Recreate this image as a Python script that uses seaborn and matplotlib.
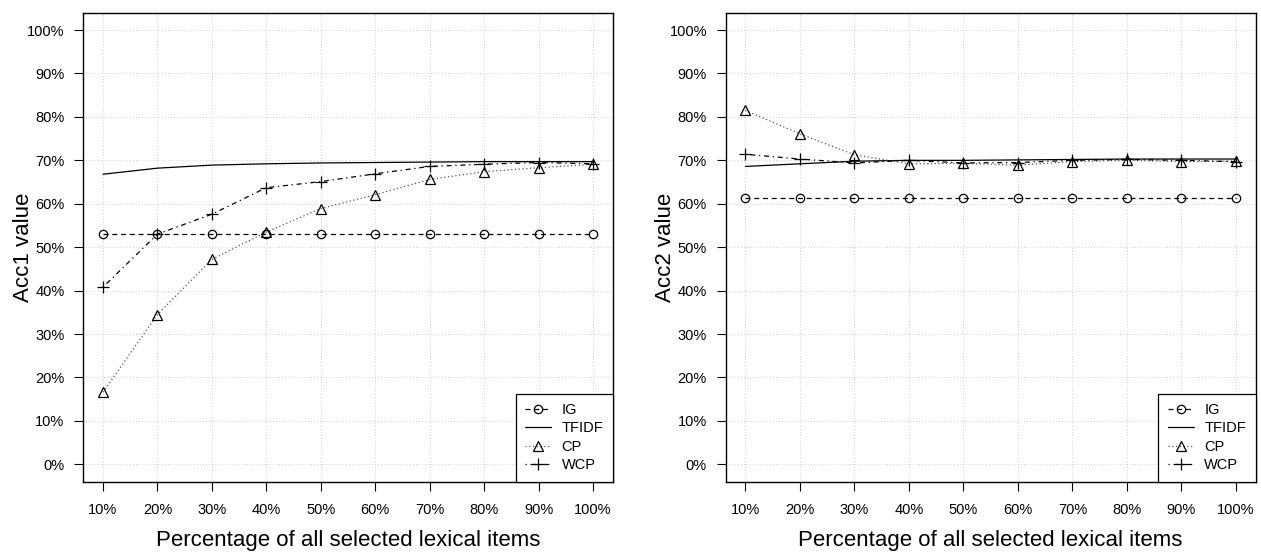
import numpy as np
import pandas as pd
import matplotlib
matplotlib.use("Agg")
import matplotlib.pyplot as plt
import seaborn as sns

# ---- data ----
pct = [10, 20, 30, 40, 50, 60, 70, 80, 90, 100]
tick_vals_y = [0, 10, 20, 30, 40, 50, 60, 70, 80, 90, 100]
methods = ["IG", "TFIDF", "CP", "WCP"]

ig_acc1 = [53.0, 53.0, 53.0, 53.0, 53.0, 53.0, 53.0, 53.0, 53.0, 53.0]
tfidf_acc1 = [66.8, 68.2, 68.9, 69.2, 69.4, 69.5, 69.6, 69.7, 69.7, 69.7]
cp_acc1 = [16.6, 34.5, 47.2, 53.5, 58.9, 62.1, 65.6, 67.4, 68.3, 69.1]
wcp_acc1 = [40.8, 53.0, 57.6, 63.7, 65.1, 66.9, 68.6, 69.1, 69.5, 69.2]

ig_acc2 = [61.3, 61.3, 61.3, 61.3, 61.3, 61.3, 61.3, 61.3, 61.3, 61.3]
tfidf_acc2 = [68.6, 69.2, 69.8, 70.0, 70.0, 70.1, 70.2, 70.3, 70.3, 70.3]
cp_acc2 = [81.5, 76.1, 71.3, 69.2, 69.3, 68.9, 69.7, 70.0, 69.7, 69.8]
wcp_acc2 = [71.4, 70.3, 69.4, 70.0, 69.4, 69.5, 70.0, 70.2, 70.0, 69.7]

ylabels = ["Acc1 value", "Acc2 value"]
xlabel = "Percentage of all selected lexical items"

# ---- style ----
sns.set_theme(style="white")
plt.rcParams["font.family"] = ["Liberation Sans", "DejaVu Sans"]
plt.rcParams["text.color"] = "black"
plt.rcParams["axes.labelcolor"] = "black"
plt.rcParams["xtick.color"] = "black"
plt.rcParams["ytick.color"] = "black"

styles = {
    "IG":    dict(color="black", dashes=(4, 3), marker="o", ms=6),
    "TFIDF": dict(color="black", dashes=None, marker=None, ms=0),
    "CP":    dict(color="#555555", dashes=(1, 2), marker="^", ms=7),
    "WCP":   dict(color="black", dashes=(1, 3, 4, 3), marker="+", ms=9),
}

fig = plt.figure(figsize=(12.61, 5.56), dpi=100)
positions = [
    [0.0661, 0.1336, 0.4859 - 0.0661, 0.9772 - 0.1336],
    [0.5755, 0.1336, 0.9957 - 0.5755, 0.9772 - 0.1336],
]
panels = [
    [ig_acc1, tfidf_acc1, cp_acc1, wcp_acc1],
    [ig_acc2, tfidf_acc2, cp_acc2, wcp_acc2],
]
tick_fs = 10.5
label_fs = 16

for pos, series, ylab in zip(positions, panels, ylabels):
    ax = fig.add_axes(pos)
    ax.set_axisbelow(True)
    for m, vals in zip(methods, series):
        st = styles[m]
        df = pd.DataFrame({"pct": pct, "val": vals})
        kw = dict(color=st["color"], linewidth=0.9, label=m)
        if st["marker"] is not None:
            kw.update(marker=st["marker"], markersize=st["ms"],
                      markerfacecolor="none", markeredgecolor="black",
                      markeredgewidth=0.9)
        sns.lineplot(data=df, x="pct", y="val", ax=ax, **kw)
        ln = ax.get_lines()[-1]
        if st["dashes"] is not None:
            ln.set_dashes(st["dashes"])
        else:
            ln.set_linestyle("-")
    ax.set_xlim(6.4, 103.6)
    ax.set_ylim(-4, 104)
    ax.set_xticks(pct)
    ax.set_xticklabels([f"{v}%" for v in pct], fontsize=tick_fs)
    ax.set_yticks(tick_vals_y)
    ax.set_yticklabels([f"{v}%" for v in tick_vals_y], fontsize=tick_fs)
    ax.tick_params(axis="both", direction="out", length=6.5, width=0.8,
                   color="black", bottom=True, left=True)
    ax.tick_params(axis="y", pad=7)
    ax.tick_params(axis="x", pad=9)
    ax.grid(True, color="#d0d0d0", linestyle=(0, (1, 2)), linewidth=0.7)
    for sp in ax.spines.values():
        sp.set_visible(True)
        sp.set_color("black")
        sp.set_linewidth(1.0)
    ax.set_xlabel(xlabel, fontsize=label_fs)
    ax.set_ylabel(ylab, fontsize=label_fs)
    ax.xaxis.set_label_coords(0.5, -0.104)
    ax.yaxis.set_label_coords(-0.094, 0.5)
    leg = ax.legend(loc="lower right", fontsize=tick_fs, frameon=True,
                    fancybox=False, framealpha=1, borderaxespad=0,
                    handlelength=1.8, handletextpad=0.7, labelspacing=0.3,
                    borderpad=0.65, numpoints=1)
    leg.get_frame().set_edgecolor("black")
    leg.get_frame().set_linewidth(0.9)

fig.savefig("out.png", dpi=100)
